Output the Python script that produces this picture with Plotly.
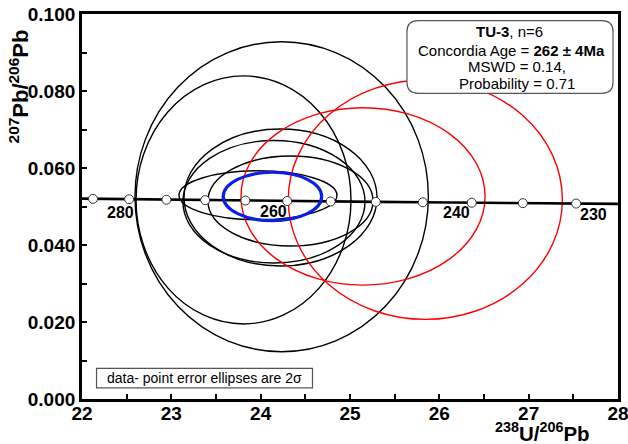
import plotly.graph_objects as go

# Concordia curve: age (Ma), 238U/206Pb and 207Pb/206Pb
concordia_age = [290, 285, 280, 275, 270, 265, 260, 255, 250, 245, 240, 235, 230, 225]
concordia_u238_pb206 = [21.733, 22.123, 22.527, 22.945, 23.379, 23.829, 24.297,
                        24.783, 25.289, 25.815, 26.363, 26.935, 27.531, 28.154]
concordia_pb207_pb206 = [0.05211, 0.05199, 0.05188, 0.05176, 0.05165, 0.05154, 0.05143,
                         0.05131, 0.05120, 0.05109, 0.05098, 0.05087, 0.05076, 0.05065]
marker_ages = [285, 280, 275, 270, 265, 260, 255, 250, 245, 240, 235, 230]
labelled_ages = [280, 260, 240, 230]

# Data-point 2-sigma error ellipses: centre and semi-axes
ell_x = [24.235, 23.808, 24.222, 24.149, 24.334, 23.970, 25.146, 25.843]
ell_y = [0.05255, 0.05171, 0.05234, 0.05123, 0.05143, 0.05291, 0.05262, 0.05177]
ell_rx = [1.642, 1.203, 1.080, 1.019, 0.924, 0.884, 1.366, 1.534]
ell_ry = [0.04026, 0.03221, 0.01779, 0.01591, 0.01169, 0.00636, 0.02304, 0.03109]
ell_color = ["black", "black", "black", "black", "black", "black", "#ff0000", "#ff0000"]

# Concordia age ellipse
age_x, age_y, age_rx, age_ry = 24.132, 0.05260, 0.551, 0.00629

FONT = "Liberation Sans, Arial, sans-serif"

fig = go.Figure()

shapes = []
for cx, cy, rx, ry, col in zip(ell_x, ell_y, ell_rx, ell_ry, ell_color):
    shapes.append(dict(type="circle", xref="x", yref="y",
                       x0=cx - rx, x1=cx + rx, y0=cy - ry, y1=cy + ry,
                       line=dict(color=col, width=1.4), layer="below"))
shapes.append(dict(type="circle", xref="x", yref="y",
                   x0=age_x - age_rx, x1=age_x + age_rx,
                   y0=age_y - age_ry, y1=age_y + age_ry,
                   line=dict(color="#0a1ee6", width=3.2), layer="above"))

# Concordia curve and age markers
fig.add_trace(go.Scatter(x=concordia_u238_pb206, y=concordia_pb207_pb206, mode="lines",
                         line=dict(color="black", width=2.6), hoverinfo="skip",
                         showlegend=False))
mx = [concordia_u238_pb206[concordia_age.index(a)] for a in marker_ages]
my = [concordia_pb207_pb206[concordia_age.index(a)] for a in marker_ages]
fig.add_trace(go.Scatter(x=mx, y=my, mode="markers",
                         marker=dict(symbol="circle", size=9, color="white",
                                     line=dict(color="#333333", width=1)),
                         showlegend=False, cliponaxis=False))

annotations = []
label_shift = {280: (-9, -13), 260: (-14, -11), 240: (-15, -10), 230: (17, -11)}
for a in labelled_ages:
    i = concordia_age.index(a)
    dx, dy = label_shift[a]
    annotations.append(dict(x=concordia_u238_pb206[i], y=concordia_pb207_pb206[i],
                            xref="x", yref="y", text=f"<b>{a}</b>", showarrow=False,
                            xshift=dx, yshift=dy, xanchor="center", yanchor="middle",
                            font=dict(family=FONT, size=16, color="black")))

# Summary box (rounded rectangle, paper coordinates)
bx0, bx1, by0, by1 = 0.6063, 0.9907, 0.794, 0.9826
rx, ry = 11 / 536, 11 / 385
path = (f"M {bx0+rx},{by0} L {bx1-rx},{by0} Q {bx1},{by0} {bx1},{by0+ry} "
        f"L {bx1},{by1-ry} Q {bx1},{by1} {bx1-rx},{by1} L {bx0+rx},{by1} "
        f"Q {bx0},{by1} {bx0},{by1-ry} L {bx0},{by0+ry} Q {bx0},{by0} {bx0+rx},{by0} Z")
shapes.append(dict(type="path", xref="paper", yref="paper", path=path,
                   fillcolor="white", line=dict(color="#555555", width=1.2), layer="above"))

box_lines = ["<b>TU-3</b>, n=6",
             "Concordia Age = <b>262 ± 4Ma</b>",
             "MSWD = 0.14,",
             "Probability = 0.71"]
box_x = [0.797, 0.802, 0.812, 0.812]
box_y = [0.9535, 0.9055, 0.8640, 0.8190]
for t, x, y in zip(box_lines, box_x, box_y):
    annotations.append(dict(x=x, y=y, xref="paper", yref="paper", text=t, showarrow=False,
                            xanchor="center", yanchor="middle",
                            font=dict(family=FONT, size=15, color="black")))

# Footnote box
shapes.append(dict(type="rect", xref="paper", yref="paper",
                   x0=0.0271, x1=0.430, y0=0.029, y1=0.0795,
                   fillcolor="white", line=dict(color="#555555", width=1.2), layer="above"))
annotations.append(dict(x=0.0429, y=0.0535, xref="paper", yref="paper",
                        text="data- point error ellipses are 2σ", showarrow=False,
                        xanchor="left", yanchor="middle",
                        font=dict(family=FONT, size=14, color="black")))

# Axis titles
annotations.append(dict(x=-0.1175, y=0.812, xref="paper", yref="paper",
                        text="<b><sup>207</sup>Pb/<sup>206</sup>Pb</b>", textangle=-90,
                        showarrow=False, xanchor="center", yanchor="middle",
                        font=dict(family=FONT, size=22, color="black")))
annotations.append(dict(x=0.86, y=-0.087, xref="paper", yref="paper",
                        text="<b><sup>238</sup>U/<sup>206</sup>Pb</b>",
                        showarrow=False, xanchor="center", yanchor="middle",
                        font=dict(family=FONT, size=20.5, color="black")))

tickfont = dict(family=FONT, size=19, color="black", weight="bold")

fig.update_layout(
    width=628, height=444,
    margin=dict(l=82, r=10, t=14, b=45, autoexpand=False),
    paper_bgcolor="white", plot_bgcolor="white",
    shapes=shapes, annotations=annotations,
    xaxis=dict(range=[22, 28], dtick=1, tick0=22, showgrid=False, zeroline=False,
               automargin=False, ticklabelstandoff=-5, ticklabeloverflow="allow",
               showline=True, linecolor="black", linewidth=2.8, mirror=True,
               ticks="inside", ticklen=5, tickwidth=2, tickcolor="black",
               tickfont=tickfont,
               minor=dict(dtick=0.5, ticks="inside", ticklen=5, tickwidth=2,
                          tickcolor="black", showgrid=False)),
    yaxis=dict(range=[0, 0.1], dtick=0.02, tick0=0, tickformat=".3f", showgrid=False,
               automargin=False, ticklabeloverflow="allow",
               zeroline=False, showline=True, linecolor="black", linewidth=2.8,
               mirror=True, ticks="inside", ticklen=5, tickwidth=2, tickcolor="black",
               tickfont=tickfont,
               minor=dict(dtick=0.01, ticks="inside", ticklen=5, tickwidth=2,
                          tickcolor="black", showgrid=False)),
)

fig.write_html("out.html")
